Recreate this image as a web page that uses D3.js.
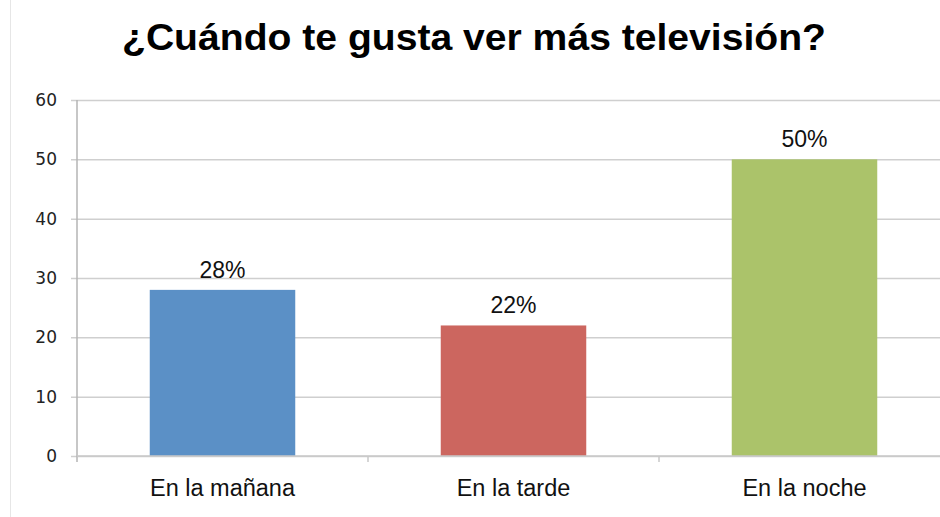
<!DOCTYPE html>
<html>
<head>
<meta charset="utf-8">
<script src="https://cdn.jsdelivr.net/npm/d3@7/dist/d3.min.js"></script>
<style>
  html, body { margin: 0; padding: 0; background: #fff; }
  svg { display: block; }
</style>
</head>
<body>
<svg id="chart" width="940" height="517"></svg>
<script>
// Chart data
const title = "¿Cuándo te gusta ver más televisión?";
const categories = ["En la mañana", "En la tarde", "En la noche"];
const values = [28, 22, 50];
const valueLabels = ["28%", "22%", "50%"];
const barColors = ["#5b90c6", "#cc665f", "#abc36a"];
const yTicks = [0, 10, 20, 30, 40, 50, 60];

const svg = d3.select("#chart");
const W = 940, H = 517;
const margin = { top: 100, right: -10, bottom: 61, left: 77 };
const plotW = W - margin.left - margin.right;
const plotH = H - margin.top - margin.bottom;

// faint frame line on the left
svg.append("line")
  .attr("x1", 10.5).attr("x2", 10.5).attr("y1", 0).attr("y2", H)
  .attr("stroke", "#e6e6e6").attr("stroke-width", 1);

// title
svg.append("text")
  .attr("x", 474).attr("y", 50)
  .attr("text-anchor", "middle")
  .attr("font-family", "Liberation Sans, Arial, sans-serif")
  .attr("font-weight", "bold")
  .attr("font-size", 37)
  .attr("textLength", 704)
  .attr("lengthAdjust", "spacingAndGlyphs")
  .attr("fill", "#000")
  .text(title);

const g = svg.append("g").attr("transform", `translate(${margin.left},${margin.top})`);

const x = d3.scaleBand().domain(categories).range([0, plotW]).paddingInner(0.5).paddingOuter(0.25);
const y = d3.scaleLinear().domain([0, 60]).range([plotH, 0]);

// horizontal gridlines with left tick marks
const yAxis = d3.axisLeft(y).tickValues(yTicks).tickSize(-plotW).tickPadding(20).tickSizeOuter(0);
const yg = g.append("g").call(yAxis);
yg.select(".domain").remove();
yg.selectAll(".tick line")
  .attr("x1", -6)
  .attr("stroke", "#cfcfcf").attr("stroke-width", 1.5);
yg.selectAll(".tick text")
  .attr("font-family", "DejaVu Sans, Verdana, sans-serif")
  .attr("font-size", 17)
  .attr("fill", "#222");

// vertical axis line
g.append("line")
  .attr("x1", 0).attr("x2", 0).attr("y1", 0).attr("y2", plotH + 6)
  .attr("stroke", "#b5b5b5").attr("stroke-width", 1.5);

// bars
g.selectAll("rect.bar")
  .data(values)
  .join("rect")
  .attr("class", "bar")
  .attr("x", (d, i) => x(categories[i]))
  .attr("width", x.bandwidth())
  .attr("y", d => y(d))
  .attr("height", d => plotH - y(d))
  .attr("fill", (d, i) => barColors[i]);

// baseline
g.append("line")
  .attr("x1", 0).attr("x2", plotW).attr("y1", plotH).attr("y2", plotH)
  .attr("stroke", "#c8c8c8").attr("stroke-width", 1.5);

// category separators below the baseline
const step = x.step();
g.selectAll("line.sep")
  .data(categories.slice(1))
  .join("line")
  .attr("class", "sep")
  .attr("x1", (d) => x(d) - step * x.paddingInner() / 2)
  .attr("x2", (d) => x(d) - step * x.paddingInner() / 2)
  .attr("y1", plotH).attr("y2", plotH + 6)
  .attr("stroke", "#c8c8c8").attr("stroke-width", 1.5);

// category labels
g.selectAll("text.cat")
  .data(categories)
  .join("text")
  .attr("class", "cat")
  .attr("x", d => x(d) + x.bandwidth() / 2)
  .attr("y", plotH + 40)
  .attr("text-anchor", "middle")
  .attr("font-family", "Liberation Sans, Arial, sans-serif")
  .attr("font-size", 23.5)
  .attr("fill", "#111")
  .text(d => d);

// value labels
g.selectAll("text.val")
  .data(values)
  .join("text")
  .attr("class", "val")
  .attr("x", (d, i) => x(categories[i]) + x.bandwidth() / 2)
  .attr("y", d => y(d) - 12)
  .attr("text-anchor", "middle")
  .attr("font-family", "Liberation Sans, Arial, sans-serif")
  .attr("font-size", 23)
  .attr("fill", "#111")
  .text((d, i) => valueLabels[i]);
</script>
</body>
</html>
